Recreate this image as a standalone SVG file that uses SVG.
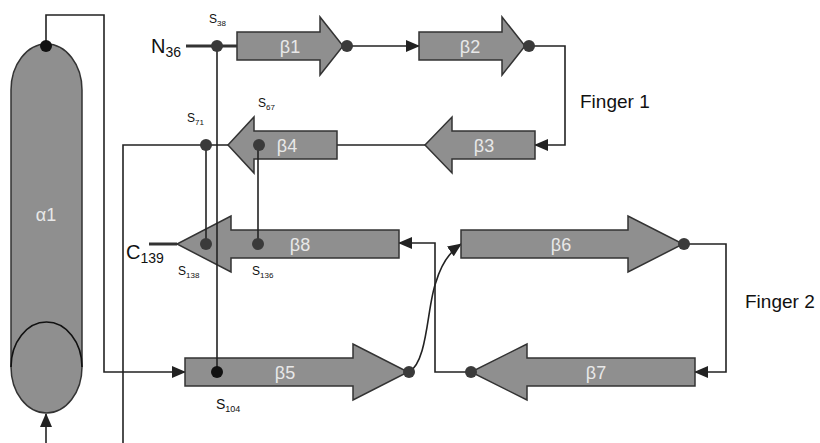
<svg xmlns="http://www.w3.org/2000/svg" width="820" height="443" viewBox="0 0 820 443">
<style>
.strand{fill:#8f8f8f;stroke:#333;stroke-width:1.5;stroke-linejoin:miter}
.ln{fill:none;stroke:#222;stroke-width:1.6}
.thick{fill:none;stroke:#333;stroke-width:3}
.dot{fill:#3a3a3a}
.blab{font-family:"Liberation Sans",Arial,sans-serif;font-size:18px;fill:#e8e8e8;text-anchor:middle}
.lab{font-family:"Liberation Sans",Arial,sans-serif;fill:#111}
</style>
<defs>
<marker id="arr" markerUnits="userSpaceOnUse" markerWidth="14" markerHeight="12" viewBox="0 0 14 12" refX="13" refY="6" orient="auto">
<path d="M0,0 L14,6 L0,12 z" fill="#222"/>
</marker>
</defs>
<rect width="820" height="443" fill="#fff"/>
<g id="connectors">
<path class="ln" d="M46,46 V15 H104 V372 H185" marker-end="url(#arr)"/>
<path class="ln" d="M123,443 V145 H228"/>
<path class="thick" d="M186,46 H237"/>
<path class="ln" d="M347,46 H419" marker-end="url(#arr)"/>
<path class="ln" d="M529,46 H565 V145 H535" marker-end="url(#arr)"/>
<path class="ln" d="M425,145 H337"/>
<path class="thick" d="M149,244 H177"/>
<path class="ln" d="M684,244 H726 V372 H695" marker-end="url(#arr)"/>
<path class="ln" d="M471,372 H435 V243 H399" marker-end="url(#arr)"/>
<path class="ln" d="M409,372 C428,362 427,305 436,282 C441,265 448,253 461,244" marker-end="url(#arr)"/>
<path class="ln" d="M46,443 V414" marker-end="url(#arr)"/>
</g>
<g id="alpha1">
<path d="M11,90 A35.5,46 0 0 1 82,90 L82,367 A35.5,46 0 0 1 11,367 Z" fill="#8f8f8f" stroke="#333" stroke-width="1.5"/>
<path d="M11,367 A35.5,45 0 0 1 82,367" fill="none" stroke="#111" stroke-width="1.6"/>
<text x="46" y="221" class="blab">α1</text>
</g>
<g id="beta1"><polygon class="strand" points="237,32 320,32 320,17 343,46 320,75 320,60 237,60"/><text x="290" y="53" class="blab">β1</text></g>
<g id="beta2"><polygon class="strand" points="419,32 502,32 502,17 525,46 502,75 502,60 419,60"/><text x="470" y="53" class="blab">β2</text></g>
<g id="beta3"><polygon class="strand" points="535,131 452,131 452,117 425,145 452,173 452,159 535,159"/><text x="484" y="152" class="blab">β3</text></g>
<g id="beta4"><polygon class="strand" points="337,131 254,131 254,117 228,145 254,173 254,159 337,159"/><text x="287" y="152" class="blab">β4</text></g>
<g id="beta8"><polygon class="strand" points="399,230 231,230 231,216 177,244 231,272 231,258 399,258"/><text x="300" y="251" class="blab">β8</text></g>
<g id="beta6"><polygon class="strand" points="461,230 628,230 628,216 683,244 628,272 628,258 461,258"/><text x="561" y="251" class="blab">β6</text></g>
<g id="beta7"><polygon class="strand" points="695,358 527,358 527,344 471,372 527,400 527,386 695,386"/><text x="596" y="379" class="blab">β7</text></g>
<g id="beta5"><polygon class="strand" points="185,358 353,358 353,344 408,372 353,400 353,386 185,386"/><text x="285" y="379" class="blab">β5</text></g>
<g id="links">
<path class="ln" d="M217,46 V372"/>
<path class="ln" d="M206,145 V244"/>
<path class="ln" d="M258,145 V244"/>
</g>
<g id="dots">
<circle cx="46" cy="46" r="6" fill="#111"/>
<circle class="dot" cx="217" cy="46" r="6"/>
<circle class="dot" cx="347" cy="46" r="6"/>
<circle class="dot" cx="529" cy="46" r="6"/>
<circle class="dot" cx="206" cy="145" r="6"/>
<circle class="dot" cx="259" cy="145" r="6"/>
<circle class="dot" cx="206" cy="244" r="6"/>
<circle class="dot" cx="258" cy="244" r="6"/>
<circle cx="217" cy="372" r="6" fill="#111"/>
<circle class="dot" cx="409" cy="372" r="6"/>
<circle class="dot" cx="684" cy="244" r="6"/>
<circle class="dot" cx="471" cy="372" r="6"/>
</g>
<g id="labels" class="lab">
<text x="151" y="53" font-size="20">N<tspan font-size="14" dy="4">36</tspan></text>
<text x="126" y="259" font-size="20">C<tspan font-size="14" dy="4">139</tspan></text>
<text x="209" y="23" font-size="12">S<tspan font-size="8" dy="3">38</tspan></text>
<text x="187" y="122" font-size="12">S<tspan font-size="8" dy="3">71</tspan></text>
<text x="258" y="107" font-size="12">S<tspan font-size="8" dy="3">67</tspan></text>
<text x="178" y="275" font-size="12">S<tspan font-size="8" dy="3">138</tspan></text>
<text x="252" y="275" font-size="12">S<tspan font-size="8" dy="3">136</tspan></text>
<text x="216" y="409" font-size="14">S<tspan font-size="9" dy="3">104</tspan></text>
<text x="580" y="108" font-size="19">Finger 1</text>
<text x="745" y="308" font-size="19">Finger 2</text>
</g>
</svg>
